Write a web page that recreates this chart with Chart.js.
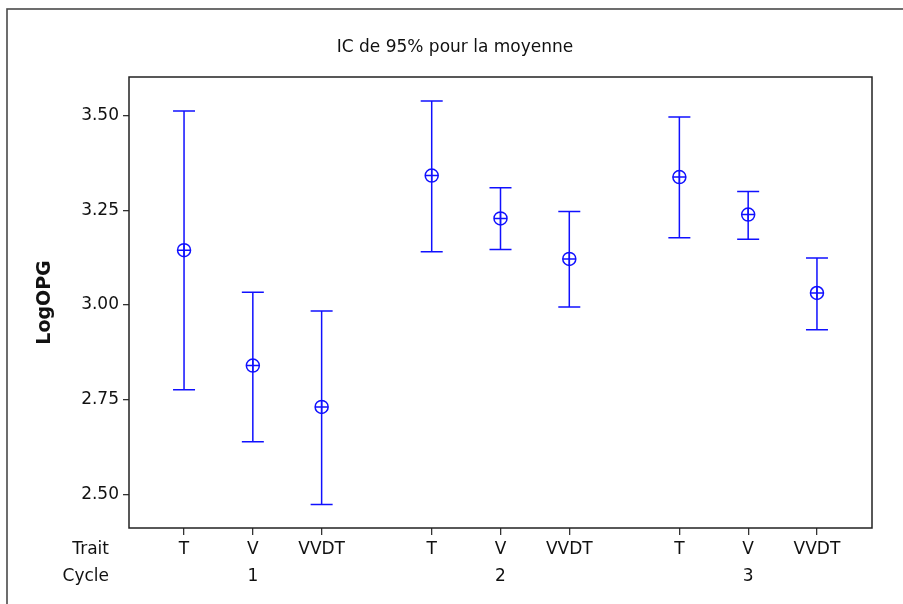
<!DOCTYPE html>
<html>
<head>
<meta charset="utf-8">
<title>IC de 95% pour la moyenne</title>
<script src="https://cdn.jsdelivr.net/npm/chart.js@4/dist/chart.umd.min.js"></script>
<style>
  html, body { margin: 0; padding: 0; background: #fff; }
  #chart { display: block; }
</style>
</head>
<body>
<canvas id="chart" width="903" height="604"></canvas>
<script>
const traits = ["T", "V", "VVDT"];
const cycles = ["1", "2", "3"];
const yTicks = [2.5, 2.75, 3.0, 3.25, 3.5];

// moyenne et bornes de l'IC a 95%, dans l'ordre cycle 1 (T, V, VVDT), cycle 2, cycle 3
const means = [3.145, 2.840, 2.731, 3.342, 3.229, 3.122, 3.338, 3.239, 3.032];
const upper = [3.513, 3.034, 2.984, 3.539, 3.310, 3.247, 3.497, 3.300, 3.124];
const lower = [2.776, 2.639, 2.473, 3.141, 3.147, 2.995, 3.178, 3.174, 2.935];

const groupGap = 0.6;
const positions = means.map((_, i) => Math.floor(i / traits.length) * (traits.length + groupGap) + (i % traits.length));

const BLUE = "#1010ff";
const TEXT = "#111";
const FONT = "'DejaVu Sans', Verdana, sans-serif";

Chart.defaults.font.family = FONT;
Chart.defaults.font.size = 17;
Chart.defaults.color = TEXT;

const framePlugin = {
  id: "frame",
  beforeDraw(chart) {
    const { ctx, width, height } = chart;
    ctx.save();
    ctx.fillStyle = "#fff";
    ctx.fillRect(0, 0, width, height);
    ctx.strokeStyle = "#4a4a4a";
    ctx.lineWidth = 1.6;
    ctx.strokeRect(7, 9, width + 20, height + 20);
    ctx.restore();
  },
  afterDraw(chart) {
    const { ctx, chartArea: a } = chart;
    ctx.save();
    ctx.strokeStyle = "#222";
    ctx.lineWidth = 1.5;
    ctx.strokeRect(a.left, a.top, a.right - a.left, a.bottom - a.top);

    ctx.fillStyle = TEXT;
    ctx.font = "17px " + FONT;
    ctx.textAlign = "center";
    ctx.textBaseline = "middle";
    ctx.fillText("IC de 95% pour la moyenne", 455, 48);

    // libelles des lignes de l'axe x
    const xOpts = chart.scales.x.options;
    const lineH = 17 * xOpts.ticks.font.lineHeight;
    const firstY = a.bottom + xOpts.grid.tickLength + xOpts.ticks.padding + lineH / 2;
    ctx.textAlign = "right";
    ctx.fillText("Trait", 109, firstY);
    ctx.fillText("Cycle", 109, firstY + lineH);
    ctx.restore();
  },
};

const errorBarPlugin = {
  id: "errorBars",
  afterDatasetsDraw(chart) {
    const { ctx } = chart;
    const xs = chart.scales.x;
    const ys = chart.scales.y;
    const cap = 11;
    ctx.save();
    ctx.strokeStyle = BLUE;
    ctx.lineWidth = 1.5;
    positions.forEach((pos, i) => {
      const x = xs.getPixelForValue(pos);
      const yTop = ys.getPixelForValue(upper[i]);
      const yBot = ys.getPixelForValue(lower[i]);
      ctx.beginPath();
      ctx.moveTo(x, yTop);
      ctx.lineTo(x, yBot);
      ctx.moveTo(x - cap, yTop);
      ctx.lineTo(x + cap, yTop);
      ctx.moveTo(x - cap, yBot);
      ctx.lineTo(x + cap, yBot);
      ctx.stroke();
    });
    ctx.restore();
  },
};

const meanPoints = positions.map((x, i) => ({ x, y: means[i] }));

new Chart(document.getElementById("chart"), {
  type: "scatter",
  data: {
    datasets: [
      {
        data: meanPoints,
        pointStyle: "circle",
        pointRadius: 6.5,
        borderColor: BLUE,
        backgroundColor: "rgba(0,0,0,0)",
        borderWidth: 1.5,
      },
      {
        data: meanPoints,
        pointStyle: "cross",
        pointRadius: 6.5,
        borderColor: BLUE,
        borderWidth: 1.5,
      },
    ],
  },
  options: {
    responsive: false,
    animation: false,
    layout: { padding: { top: 77, right: 31, bottom: 0, left: 0 } },
    plugins: {
      legend: { display: false },
      tooltip: { enabled: false },
    },
    scales: {
      x: {
        type: "linear",
        min: -0.8,
        max: 10.0,
        border: { display: false },
        grid: { drawOnChartArea: false, drawTicks: true, tickLength: 7, color: "#333", lineWidth: 1.3 },
        afterBuildTicks: (scale) => {
          scale.ticks = positions.map((value) => ({ value }));
        },
        afterFit: (scale) => {
          scale.height = 76;
        },
        ticks: {
          autoSkip: false,
          maxRotation: 0,
          padding: 1,
          color: TEXT,
          font: { size: 17, lineHeight: 1.6 },
          callback: (value, index) => {
            const t = index % traits.length;
            const g = Math.floor(index / traits.length);
            return [traits[t], t === 1 ? cycles[g] : ""];
          },
        },
      },
      y: {
        min: 2.411,
        max: 3.6025,
        border: { display: false },
        grid: { drawOnChartArea: false, drawTicks: true, tickLength: 6, color: "#333", lineWidth: 1.3 },
        afterBuildTicks: (scale) => {
          scale.ticks = yTicks.map((value) => ({ value }));
        },
        afterFit: (scale) => {
          scale.width = 129;
        },
        ticks: {
          padding: 4,
          color: TEXT,
          font: { size: 17 },
          callback: (value) => Number(value).toFixed(2),
        },
        title: {
          display: true,
          text: "LogOPG",
          color: TEXT,
          font: { size: 19, weight: "bold" },
          padding: { top: 34, bottom: 0 },
        },
      },
    },
  },
  plugins: [framePlugin, errorBarPlugin],
});
</script>
</body>
</html>
